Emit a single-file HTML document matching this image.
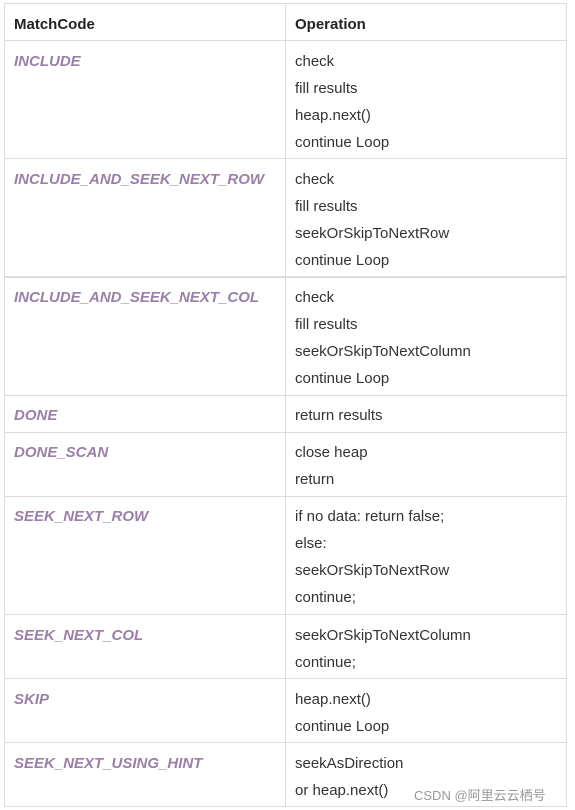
<!DOCTYPE html>
<html><head><meta charset="utf-8"><style>
body{margin:0;width:575px;height:810px;background:#fff;position:relative;overflow:hidden;font-family:"Liberation Sans","Noto Sans CJK SC",sans-serif;}
.h{position:absolute;left:4px;width:562px;height:1px;background:#dcdcdc}
.v{position:absolute;top:3px;height:804px;width:1px;background:#dcdcdc}
.t{position:absolute;font-size:15px;line-height:27px;color:#333;white-space:nowrap;margin-top:1px}
.k{position:absolute;left:14px;font-size:15px;line-height:27px;color:#9a7fa8;font-weight:bold;font-style:italic;white-space:nowrap;margin-top:1px}
.hd{position:absolute;top:11px;font-size:15px;line-height:27px;font-weight:bold;color:#222}
</style></head><body>
<div class="h" style="top:3px"></div><div class="h" style="top:40px"></div><div class="h" style="top:158px"></div><div class="h" style="top:276px;height:2px"></div><div class="h" style="top:395px"></div><div class="h" style="top:432px"></div><div class="h" style="top:496px"></div><div class="h" style="top:614px"></div><div class="h" style="top:678px"></div><div class="h" style="top:742px"></div><div class="h" style="top:806px"></div>
<div class="v" style="left:4px"></div><div class="v" style="left:285px"></div><div class="v" style="left:566px"></div>
<div class="hd" style="left:14px">MatchCode</div><div class="hd" style="left:295px">Operation</div>
<div class="k" style="top:47px">INCLUDE</div>
<div class="t" style="left:295px;top:47px">check<br>fill results<br>heap.next()<br>continue Loop</div>
<div class="k" style="top:165px">INCLUDE_AND_SEEK_NEXT_ROW</div>
<div class="t" style="left:295px;top:165px">check<br>fill results<br>seekOrSkipToNextRow<br>continue Loop</div>
<div class="k" style="top:283px">INCLUDE_AND_SEEK_NEXT_COL</div>
<div class="t" style="left:295px;top:283px">check<br>fill results<br>seekOrSkipToNextColumn<br>continue Loop</div>
<div class="k" style="top:401px">DONE</div>
<div class="t" style="left:295px;top:401px">return results</div>
<div class="k" style="top:438px">DONE_SCAN</div>
<div class="t" style="left:295px;top:438px">close heap<br>return</div>
<div class="k" style="top:502px">SEEK_NEXT_ROW</div>
<div class="t" style="left:295px;top:502px">if no data: return false;<br>else:<br>seekOrSkipToNextRow<br>continue;</div>
<div class="k" style="top:621px">SEEK_NEXT_COL</div>
<div class="t" style="left:295px;top:621px">seekOrSkipToNextColumn<br>continue;</div>
<div class="k" style="top:685px">SKIP</div>
<div class="t" style="left:295px;top:685px">heap.next()<br>continue Loop</div>
<div class="k" style="top:749px">SEEK_NEXT_USING_HINT</div>
<div class="t" style="left:295px;top:749px">seekAsDirection<br>or heap.next()</div>
<div style="position:absolute;left:414px;top:785px;font-size:13px;color:#999;white-space:nowrap">CSDN @阿里云云栖号</div>
</body></html>
